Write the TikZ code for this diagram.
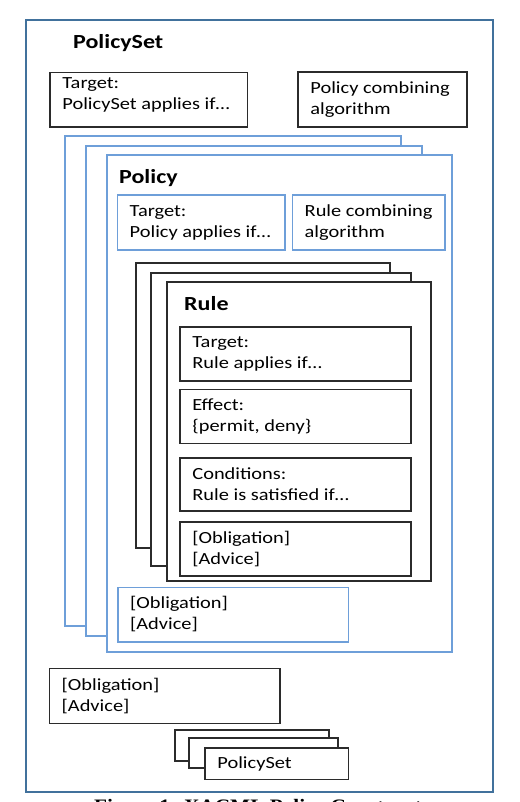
\documentclass[tikz,border=0pt]{standalone}
\usepackage{fontspec}
\setmainfont{Carlito}[FakeStretch=1.2]
\newfontfamily\capfont{Liberation Serif}[FakeStretch=1.12]
\definecolor{psblue}{HTML}{41719C}
\definecolor{polblue}{HTML}{6E9FD9}
\definecolor{rulegray}{HTML}{2B2B2B}
\tikzset{
  box/.style={draw, line width=1.6pt, fill=white, inner sep=0pt},
  blk/.style={box, draw=rulegray},
  blu/.style={box, draw=polblue},
  txt/.style={font=\fontsize{17}{21}\selectfont, align=left, anchor=west, inner sep=0pt, text=black},
  ttl/.style={font=\fontsize{20}{24}\selectfont\bfseries, anchor=base west, inner sep=0pt, text=black},
}
\begin{document}
\begin{tikzpicture}[x=1pt,y=-1pt]
\useasboundingbox (0,0) rectangle (519,802);
% outer PolicySet
\node[draw=psblue, line width=2pt, inner sep=0pt, minimum width=467pt, minimum height=772pt] (psouter) at (259.5,406) {};
\node[ttl] (pstitle) at (73,49) {PolicySet};
\node[blk, minimum width=197.5pt, minimum height=54.6pt] (pstarget) at (148.75,100) {};
\node[blk, minimum width=169pt, minimum height=55pt] (pscomb) at (382.5,99.3) {};
\node[txt, yshift=5pt] (pstargett) at ([xshift=13pt]pstarget.west) {Target:\\PolicySet applies if…};
\node[txt] (pscombt) at ([xshift=13pt]pscomb.west) {Policy combining\\algorithm};
% Policy stack
\node[blu, minimum width=336pt, minimum height=490pt] (pol1) at (233,381) {};
\node[blu, minimum width=336pt, minimum height=490pt] (pol2) at (254,391) {};
\node[blu, minimum width=345pt, minimum height=497pt] (pol3) at (279.5,403.5) {};
\node[ttl] (poltitle) at (119,184) {Policy};
\node[blu, minimum width=167.7pt, minimum height=54.7pt] (poltarget) at (201.15,222.65) {};
\node[blu, minimum width=152.7pt, minimum height=54.7pt] (rulecomb) at (368.65,222.65) {};
\node[txt] (poltargett) at ([xshift=13pt]poltarget.west) {Target:\\Policy applies if…};
\node[txt] (rulecombt) at ([xshift=13pt]rulecomb.west) {Rule combining\\algorithm};
% Rule stack
\node[blk, minimum width=254pt, minimum height=285pt] (r1) at (263,405.5) {};
\node[blk, minimum width=260pt, minimum height=293pt] (r2) at (281,419.5) {};
\node[blk, minimum width=264pt, minimum height=299pt] (r3) at (299,431.5) {};
\node[ttl] (ruletitle) at (184,310) {Rule};
\node[blk, minimum width=231pt, minimum height=54pt] (ruletarget) at (295.5,353.7) {};
\node[blk, minimum width=231pt, minimum height=54pt] (effect) at (295.5,416.3) {};
\node[blk, minimum width=231pt, minimum height=53.3pt] (cond) at (295.5,484.35) {};
\node[blk, minimum width=231pt, minimum height=54.3pt] (ruleobl) at (295.5,548.85) {};
\node[txt] (ruletargett) at ([xshift=13pt]ruletarget.west) {Target:\\Rule applies if…};
\node[txt] (effectt) at ([xshift=13pt]effect.west) {Effect:\\\{permit, deny\}};
\node[txt] (condt) at ([xshift=13pt]cond.west) {Conditions:\\Rule is satisfied if…};
\node[txt] (ruleoblt) at ([xshift=13pt]ruleobl.west) {[Obligation]\\{}[Advice]};
% Policy obligation
\node[blu, minimum width=230.6pt, minimum height=54.4pt] (polobl) at (233,614.5) {};
\node[txt] (poloblt) at ([xshift=13pt]polobl.west) {[Obligation]\\{}[Advice]};
% PolicySet obligation
\node[blk, minimum width=230.7pt, minimum height=55pt] (psobl) at (164.65,695.8) {};
\node[txt] (psoblt) at ([xshift=13pt]psobl.west) {[Obligation]\\{}[Advice]};
% small PolicySet stack
\node[blk, minimum width=154pt, minimum height=31pt] (s1) at (252,745.5) {};
\node[blk, minimum width=149pt, minimum height=30pt] (s2) at (263.5,753) {};
\node[blk, minimum width=143.3pt, minimum height=31.6pt] (s3) at (276.65,763.5) {};
\node[txt] (s3t) at ([xshift=13pt]s3.west) {PolicySet};
% caption (cut off by the page edge, as in the reference)
\node[font=\capfont\bfseries\fontsize{19}{22}\selectfont, anchor=base, inner sep=0pt] (caption) at (262,812) {Figure 1: XACML Policy Constructs};
\end{tikzpicture}
\end{document}
